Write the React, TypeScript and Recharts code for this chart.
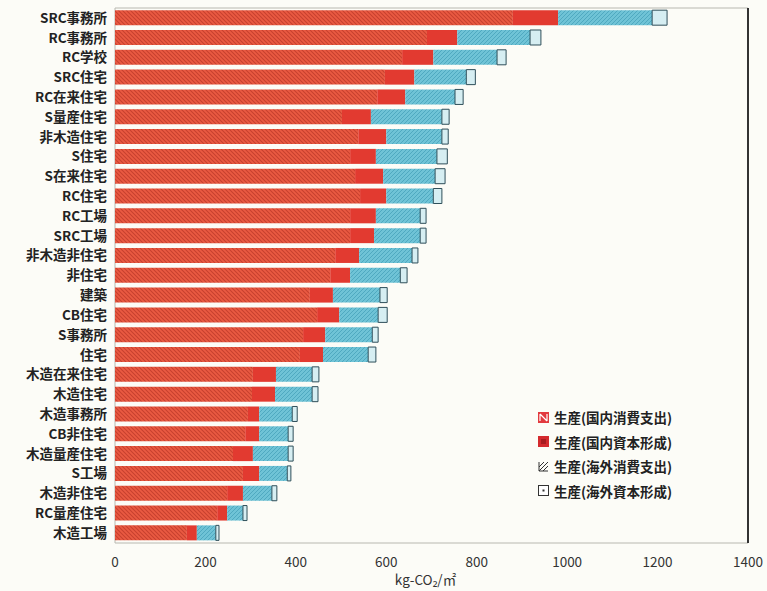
import React from 'react';
import { BarChart, Bar, XAxis, YAxis, ReferenceArea, ReferenceLine, Legend } from 'recharts';

const categories = [
  'SRC事務所', 'RC事務所', 'RC学校', 'SRC住宅', 'RC在来住宅', 'S量産住宅', '非木造住宅', 'S住宅', 'S在来住宅',
  'RC住宅', 'RC工場', 'SRC工場', '非木造非住宅', '非住宅', '建築', 'CB住宅', 'S事務所', '住宅', '木造在来住宅',
  '木造住宅', '木造事務所', 'CB非住宅', '木造量産住宅', 'S工場', '木造非住宅', 'RC量産住宅', '木造工場',
];

const domesticConsumption = [880, 690, 635, 597, 580, 502, 538, 520, 531, 542, 520, 520, 487, 476, 431, 447, 416, 409, 305, 303, 294, 288, 261, 283, 248, 226, 159];
const domesticCapital = [100, 67, 69, 65, 62, 64, 62, 57, 62, 58, 57, 53, 53, 44, 51, 49, 49, 51, 51, 51, 25, 31, 44, 36, 35, 22, 22];
const overseasConsumption = [208, 161, 141, 115, 110, 157, 123, 135, 115, 104, 98, 102, 117, 111, 104, 86, 104, 100, 80, 82, 73, 64, 78, 62, 64, 35, 42];
const overseasCapital = [33, 24, 20, 20, 18, 16, 14, 23, 22, 19, 13, 13, 13, 15, 16, 20, 13, 17, 15, 13, 11, 11, 11, 8, 11, 9, 7];

const xTicks = [0, 200, 400, 600, 800, 1000, 1200, 1400];

const seriesNames = ['生産(国内消費支出)', '生産(国内資本形成)', '生産(海外消費支出)', '生産(海外資本形成)'];

const data = categories.map((name, i) => ({
  name,
  dc: domesticConsumption[i],
  dk: domesticCapital[i],
  oc: overseasConsumption[i],
  ok: overseasCapital[i],
}));

const FONT = '"Noto Sans CJK JP", "Noto Sans", sans-serif';

const LegendIcon: React.FC<{ idx: number }> = ({ idx }) => {
  if (idx === 0) {
    return (
      <svg width={11} height={11}>
        <rect x={0} y={0} width={11} height={11} fill="#e23a3f" />
        <path d="M2,2 L9,9 M2,9 L2,2 M9,9 L9,2" stroke="#fff" strokeWidth={1.2} fill="none" />
      </svg>
    );
  }
  if (idx === 1) {
    return (
      <svg width={11} height={11}>
        <rect x={0} y={0} width={11} height={11} fill="#d42a2e" />
        <rect x={3} y={3} width={5} height={5} fill="#a81c20" />
      </svg>
    );
  }
  if (idx === 2) {
    return (
      <svg width={11} height={11}>
        <path d="M1,10 L10,1 M1,6 L6,1 M5,10 L10,5 M1,1 L1,10 L10,10" stroke="#333" strokeWidth={1} fill="none" />
      </svg>
    );
  }
  return (
    <svg width={11} height={11}>
      <rect x={0.5} y={0.5} width={10} height={10} fill="#fff" stroke="#333" strokeWidth={1} />
      <rect x={4.5} y={4.5} width={2} height={2} fill="#333" />
    </svg>
  );
};

const CustomLegend = () => (
  <div style={{ fontFamily: FONT, fontSize: 13.5, fontWeight: 600, color: '#222' }}>
    {seriesNames.map((n, i) => (
      <div key={n} style={{ display: 'flex', alignItems: 'center', height: 24.5 }}>
        <LegendIcon idx={i} />
        <span style={{ marginLeft: 5 }}>{n}</span>
      </div>
    ))}
  </div>
);

export default function App() {
  return (
    <div style={{ position: 'absolute', left: 0, top: 0, width: 767, height: 591, background: '#fcfcf7' }}>
      <BarChart
        width={767}
        height={591}
        data={data}
        layout="vertical"
        margin={{ top: 8, right: 19, bottom: 6, left: 8 }}
        barCategoryGap="11%"
      >
        <defs>
          <pattern id="redHatch" width={4} height={4} patternUnits="userSpaceOnUse">
            <rect width={4} height={4} fill="#ea5a42" />
            <path d="M-1,-1 L5,5 M3,-1 L5,1 M-1,3 L1,5" stroke="#c8402e" strokeWidth={1.1} />
          </pattern>
          <pattern id="blueHatch" width={4} height={4} patternUnits="userSpaceOnUse">
            <rect width={4} height={4} fill="#6fc3d6" />
            <path d="M-1,5 L5,-1 M-1,1 L1,-1 M3,5 L5,3" stroke="#4fa9c0" strokeWidth={1} />
          </pattern>
        </defs>
        <ReferenceArea x1={0} x2={1400} fill="none" stroke="#b8b8b0" strokeWidth={1} ifOverflow="extendDomain" />
        <XAxis
          type="number"
          domain={[0, 1400]}
          ticks={xTicks}
          tickLine={false}
          axisLine={false}
          height={42}
          tick={{ fontFamily: FONT, fontSize: 13.5, fill: '#333', dy: 6 }}
          label={{ value: 'kg-CO₂/㎡', position: 'insideBottom', offset: 0, dx: -6, style: { fontFamily: FONT, fontSize: 13.5, fill: '#333' } }}
        />
        <YAxis
          type="category"
          dataKey="name"
          width={107}
          interval={0}
          tickLine={false}
          axisLine={false}
          tick={{ fontFamily: FONT, fontSize: 13.5, fontWeight: 600, fill: '#222' }}
        />
        <Bar dataKey="dc" stackId="a" name={seriesNames[0]} fill="url(#redHatch)" isAnimationActive={false} />
        <Bar dataKey="dk" stackId="a" name={seriesNames[1]} fill="#e23a30" isAnimationActive={false} />
        <Bar dataKey="oc" stackId="a" name={seriesNames[2]} fill="url(#blueHatch)" isAnimationActive={false} />
        <Bar dataKey="ok" stackId="a" name={seriesNames[3]} fill="#d6eef2" stroke="#2f4f5a" strokeWidth={1} isAnimationActive={false} />
        <ReferenceLine x={1400} stroke="#333" strokeWidth={2} />
        <Legend
          layout="vertical"
          align="center"
          verticalAlign="middle"
          content={<CustomLegend />}
          wrapperStyle={{ left: 538, top: 405, width: 190 }}
        />
      </BarChart>
    </div>
  );
}
